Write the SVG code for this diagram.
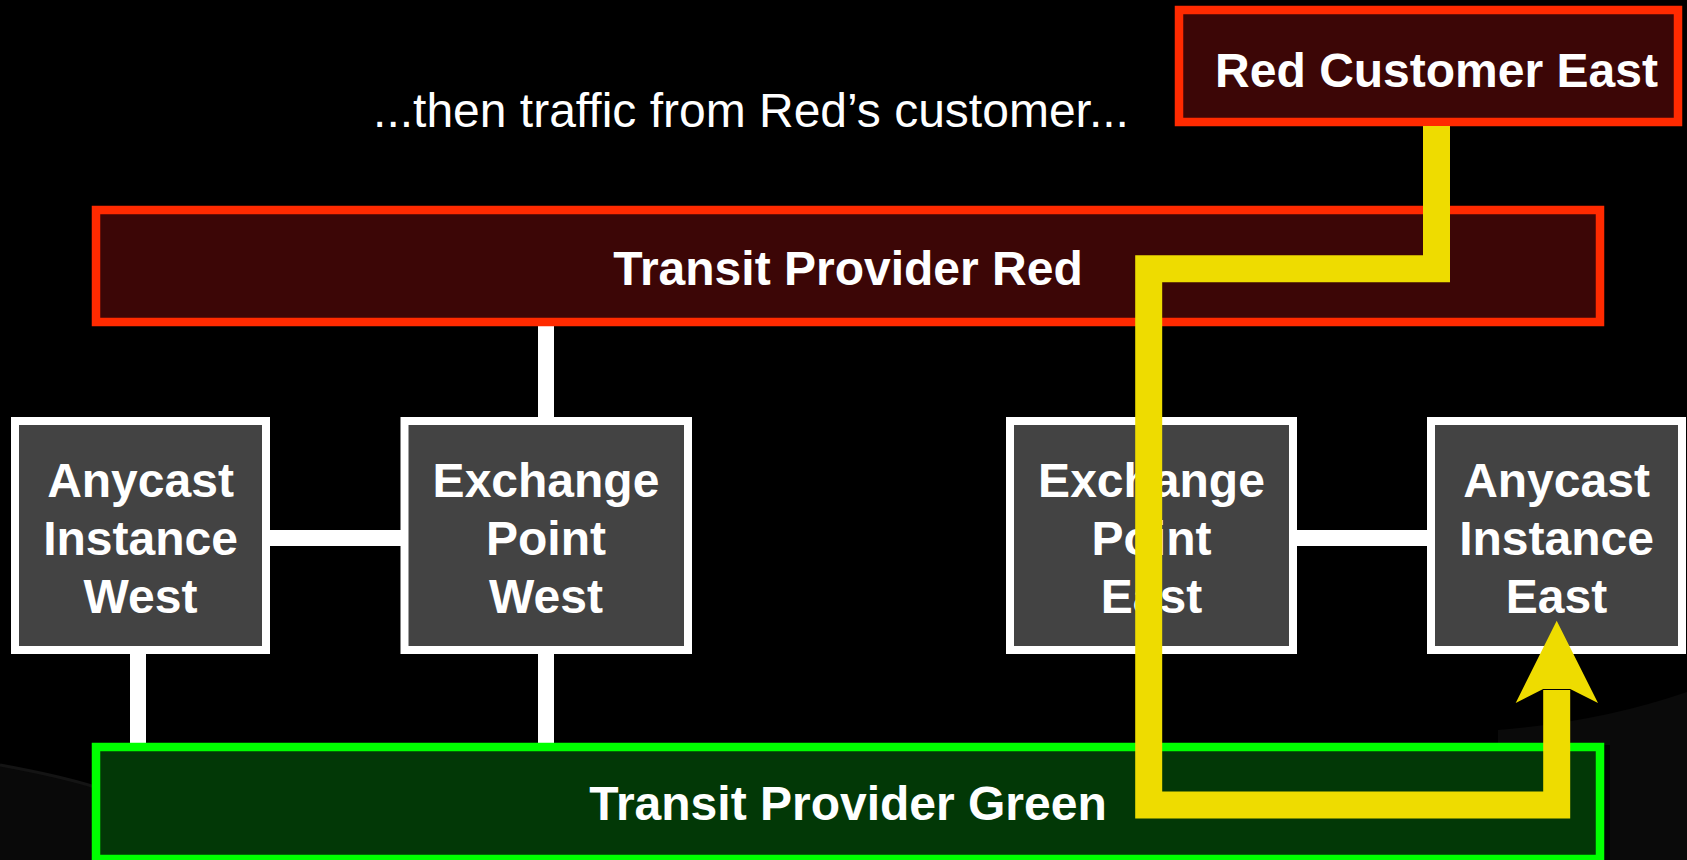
<svg xmlns="http://www.w3.org/2000/svg" width="1687" height="860" viewBox="0 0 1687 860">
<defs>
<style>
.t{font-family:"Liberation Sans",Arial,Helvetica,sans-serif;font-size:48px;fill:#ffffff;text-anchor:middle}
.b{font-weight:bold}
.red{fill:#3c0606;stroke:#ff2a00;stroke-width:8.5}
.grn{fill:#023806;stroke:#00ff00;stroke-width:8.5}
.node{fill:#434343;stroke:#ffffff;stroke-width:8}
.wire{stroke:#ffffff;stroke-width:16;fill:none}
.path{stroke:#eedc00;stroke-width:27;fill:none;stroke-linejoin:miter;stroke-linecap:butt}
</style>
</defs>
<rect x="0" y="0" width="1687" height="860" fill="#000000"/>
<g id="background">
<path d="M0 765 Q60 776 95 787 L95 860 L0 860 Z" fill="#090909"/>
<path d="M0 765 Q60 776 95 787" stroke="#141414" stroke-width="3" fill="none"/>
<path d="M1498 730 Q1600 722 1687 692 L1687 860 L1610 860 L1610 745 L1498 745 Z" fill="#0a0a0a"/>
</g>
<text class="t" x="751" y="127">...then traffic from Red’s customer...</text>
<g id="connectors">
<line class="wire" x1="546" y1="326" x2="546" y2="418"/>
<line class="wire" x1="269" y1="538" x2="401" y2="538"/>
<line class="wire" x1="138" y1="653" x2="138" y2="744"/>
<line class="wire" x1="546" y1="653" x2="546" y2="744"/>
<line class="wire" x1="1296" y1="538" x2="1428" y2="538"/>
</g>
<g id="red-customer-east">
<rect class="red" x="1179" y="10" width="499" height="112"/>
<text class="t b" x="1436.5" y="87">Red Customer East</text>
</g>
<g id="transit-provider-red">
<rect class="red" x="96" y="210" width="1504" height="112"/>
<text class="t b" x="848" y="285">Transit Provider Red</text>
</g>
<g id="transit-provider-green">
<rect class="grn" x="96" y="747" width="1504" height="112"/>
<text class="t b" x="848" y="820">Transit Provider Green</text>
</g>
<g id="anycast-west">
<rect class="node" x="15" y="421" width="251" height="229"/>
<text class="t b" x="140.5" y="497">Anycast</text>
<text class="t b" x="140.5" y="555">Instance</text>
<text class="t b" x="140.5" y="613">West</text>
</g>
<g id="exchange-west">
<rect class="node" x="404.5" y="421" width="283.5" height="229"/>
<text class="t b" x="546" y="497">Exchange</text>
<text class="t b" x="546" y="555">Point</text>
<text class="t b" x="546" y="613">West</text>
</g>
<g id="exchange-east">
<rect class="node" x="1010" y="421" width="283" height="229"/>
<text class="t b" x="1151.5" y="497">Exchange</text>
<text class="t b" x="1151.5" y="555">Point</text>
<text class="t b" x="1151.5" y="613">East</text>
</g>
<g id="anycast-east">
<rect class="node" x="1431" y="421" width="251" height="229"/>
<text class="t b" x="1556.5" y="497">Anycast</text>
<text class="t b" x="1556.5" y="555">Instance</text>
<text class="t b" x="1556.5" y="613">East</text>
</g>
<g id="traffic-path">
<path class="path" d="M1436.5 126 V268.7 H1148.7 V805 H1556.7 V690"/>
<polygon points="1556.7,620.7 1598,703 1570.2,689 1543.2,689 1515.7,703" fill="#eedc00"/>
</g>
</svg>
